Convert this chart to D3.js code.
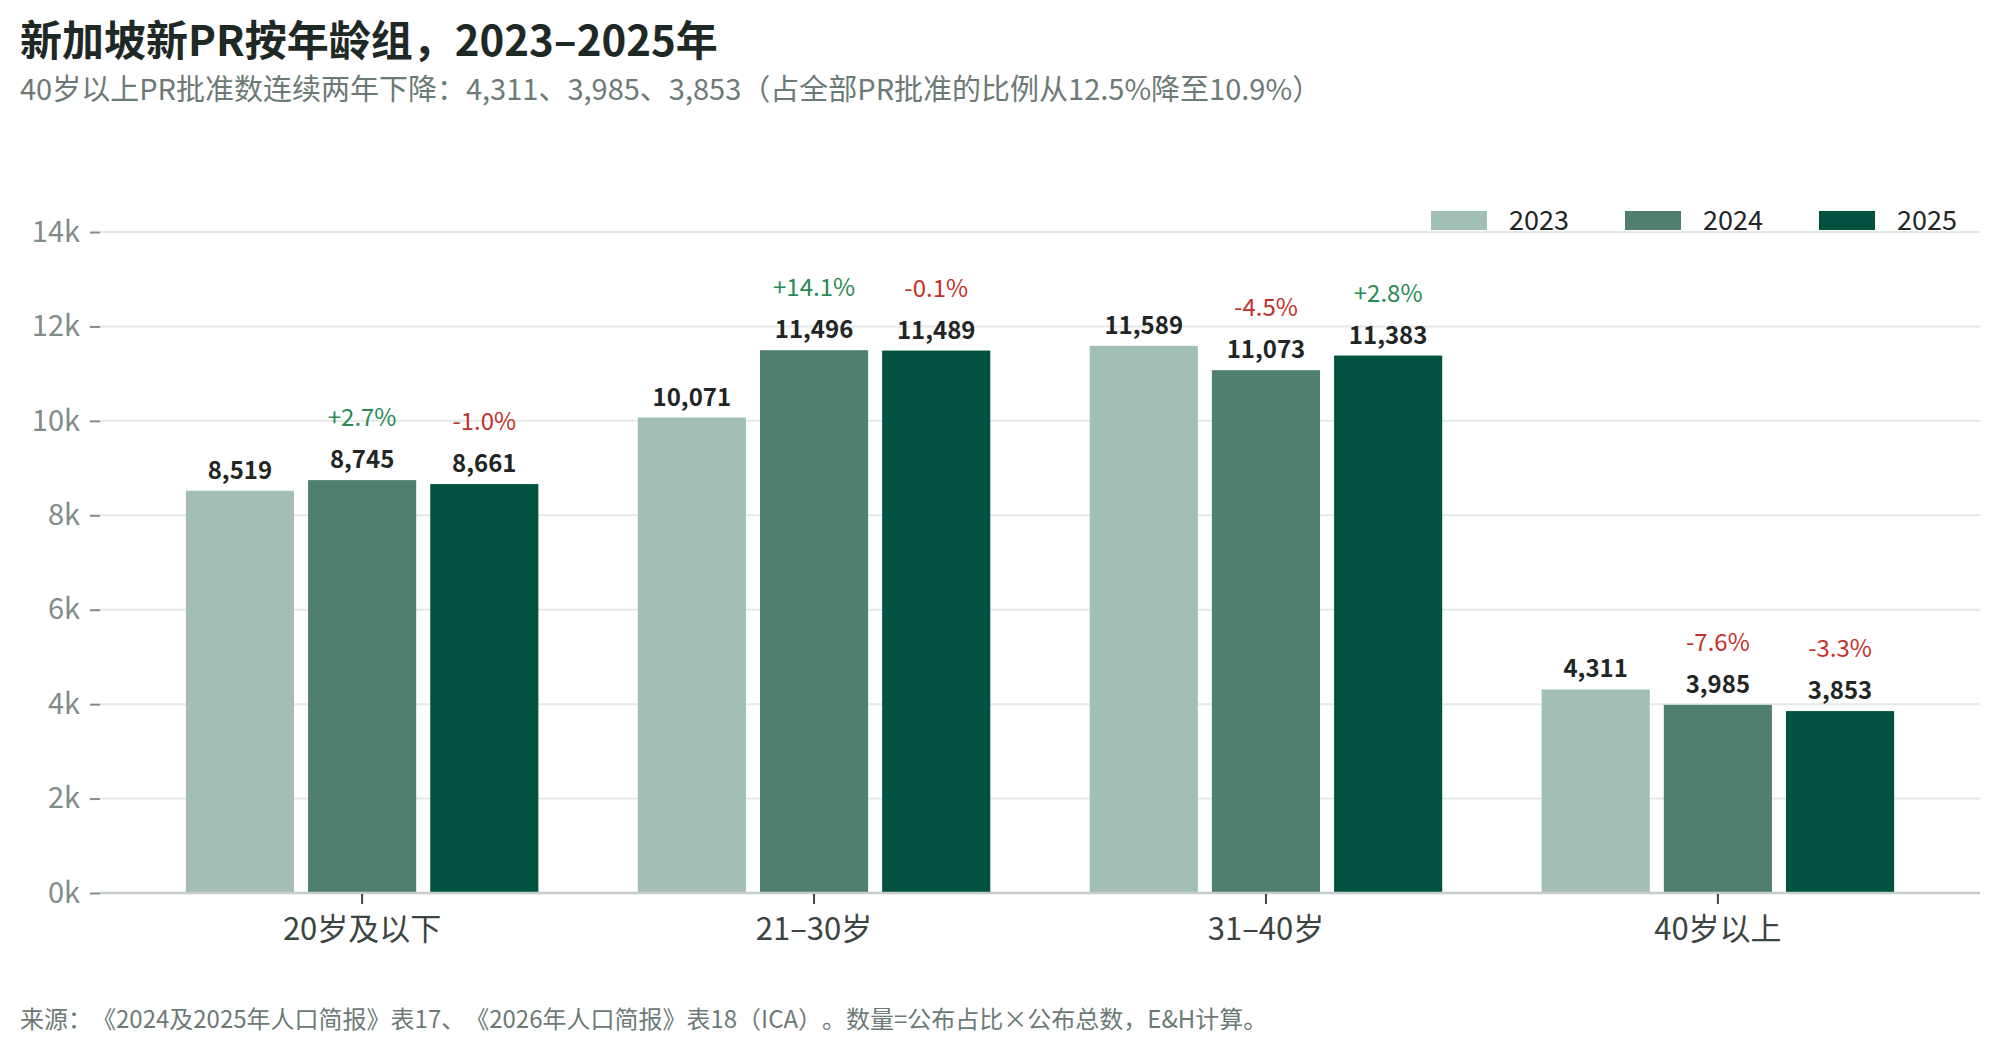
<!DOCTYPE html>
<html>
<head>
<meta charset="utf-8">
<script src="https://cdn.jsdelivr.net/npm/d3@7"></script>
<style>
  html, body { margin: 0; padding: 0; background: #fff; }
  text { font-family: "Noto Sans CJK SC", "Noto Sans", sans-serif; text-spacing-trim: space-all; }
</style>
</head>
<body>
<div id="chart"></div>
<script>
const groups = ["20岁及以下", "21–30岁", "31–40岁", "40岁以上"];
const years = ["2023", "2024", "2025"];
const values2023 = [8519, 10071, 11589, 4311];
const values2024 = [8745, 11496, 11073, 3985];
const values2025 = [8661, 11489, 11383, 3853];
const yTicks = [0, 2000, 4000, 6000, 8000, 10000, 12000, 14000];

const titleText = "新加坡新PR按年龄组，2023–2025年";
const subtitleText = "40岁以上PR批准数连续两年下降：4,311、3,985、3,853（占全部PR批准的比例从12.5%降至10.9%）";
const footerText = "来源：《2024及2025年人口简报》表17、《2026年人口简报》表18（ICA）。数量=公布占比×公布总数，E&H计算。";

const W = 2000, H = 1040;
const margin = {top: 232, right: 20, bottom: 147, left: 100};

const colors = {"2023": "#a1bfb3", "2024": "#507f6e", "2025": "#025240"};
const upColor = "#2a8a56", downColor = "#c4302b";

const seriesByYear = {"2023": values2023, "2024": values2024, "2025": values2025};

// one row per age group
const rows = groups.map((g, i) => ({
  group: g,
  vals: years.map(y => ({year: y, value: seriesByYear[y][i]}))
}));

const svg = d3.select("#chart").append("svg")
  .attr("width", W)
  .attr("height", H);

const x0 = d3.scaleBand()
  .domain(groups)
  .range([margin.left, W - margin.right])
  .paddingInner(0.22)
  .paddingOuter(0.19);

const x1 = d3.scaleBand()
  .domain(years)
  .range([0, x0.bandwidth()])
  .paddingInner(0.115);

const y = d3.scaleLinear()
  .domain([0, 14000])
  .range([H - margin.bottom, margin.top]);

// gridlines
svg.append("g")
  .selectAll("line")
  .data(yTicks.filter(d => d > 0))
  .enter().append("line")
  .attr("x1", margin.left)
  .attr("x2", W - margin.right)
  .attr("y1", d => y(d))
  .attr("y2", d => y(d))
  .style("stroke", "#e4e8e6")
  .style("stroke-width", 2);

// y axis
const yAxis = svg.append("g")
  .attr("transform", `translate(${margin.left},0)`)
  .call(d3.axisLeft(y).tickValues(yTicks).tickSize(10).tickPadding(10)
    .tickFormat(d => (d / 1000) + "k"));
yAxis.select(".domain").remove();
yAxis.selectAll(".tick line").style("stroke", "#7f8c88").style("stroke-width", 2);
yAxis.selectAll(".tick text")
  .style("font-size", "29px")
  .style("fill", "#7f8c88")
  .style("font-family", "'Noto Sans CJK SC', sans-serif");

// bars
const grp = svg.append("g")
  .selectAll(".grp")
  .data(rows)
  .enter().append("g")
  .attr("class", "grp")
  .attr("transform", d => `translate(${x0(d.group)},0)`);

grp.selectAll("rect")
  .data(d => d.vals)
  .enter().append("rect")
  .attr("x", d => x1(d.year))
  .attr("y", d => y(d.value))
  .attr("width", x1.bandwidth())
  .attr("height", d => y(0) - y(d.value))
  .style("fill", d => colors[d.year]);

// value labels
grp.selectAll(".val")
  .data(d => d.vals)
  .enter().append("text")
  .attr("class", "val")
  .attr("x", d => x1(d.year) + x1.bandwidth() / 2)
  .attr("y", d => y(d.value) - 12)
  .attr("text-anchor", "middle")
  .style("font-size", "24px")
  .style("font-weight", "bold")
  .style("fill", "#1f2624")
  .text(d => d3.format(",")(d.value));

// change labels vs previous year
grp.selectAll(".pct")
  .data(d => d.vals.slice(1).map((v, i) => ({
    year: v.year, value: v.value, change: v.value / d.vals[i].value - 1
  })))
  .enter().append("text")
  .attr("class", "pct")
  .attr("x", d => x1(d.year) + x1.bandwidth() / 2)
  .attr("y", d => y(d.value) - 54)
  .attr("text-anchor", "middle")
  .style("font-size", "24px")
  .style("fill", d => d.change >= 0 ? upColor : downColor)
  .text(d => (d.change >= 0 ? "+" : "-") + d3.format(".1f")(Math.abs(d.change) * 100) + "%");

// baseline
svg.append("line")
  .attr("x1", margin.left)
  .attr("x2", W - margin.right)
  .attr("y1", y(0))
  .attr("y2", y(0))
  .style("stroke", "#c6ccca")
  .style("stroke-width", 2.5);

// x axis
const xAxis = svg.append("g")
  .attr("transform", `translate(0,${y(0) + 1})`)
  .call(d3.axisBottom(x0).tickSize(10).tickPadding(14));
xAxis.select(".domain").remove();
xAxis.selectAll(".tick line").style("stroke", "#3c4643").style("stroke-width", 2);
xAxis.selectAll(".tick text")
  .style("font-size", "31px")
  .style("fill", "#3a4441")
  .style("font-family", "'Noto Sans CJK SC', sans-serif");

// legend
const legend = svg.append("g")
  .selectAll(".leg")
  .data(years)
  .enter().append("g")
  .attr("class", "leg")
  .attr("transform", (d, i) => `translate(${1431 + i * 194},211)`);

legend.append("rect")
  .attr("width", 56)
  .attr("height", 19)
  .style("fill", d => colors[d]);

legend.append("text")
  .attr("x", 78)
  .attr("y", 19)
  .style("font-size", "27px")
  .style("fill", "#1f2624")
  .text(d => d);

// titles
svg.append("text")
  .attr("x", 20)
  .attr("y", 56)
  .style("font-size", "42px")
  .style("font-weight", "bold")
  .style("fill", "#1e2926")
  .text(titleText);

svg.append("text")
  .attr("x", 20)
  .attr("y", 100)
  .style("font-size", "29px")
  .style("fill", "#6c7a76")
  .text(subtitleText);

svg.append("text")
  .attr("x", 20)
  .attr("y", 1028)
  .style("font-size", "24px")
  .style("fill", "#6c7a76")
  .text(footerText);
</script>
</body>
</html>
